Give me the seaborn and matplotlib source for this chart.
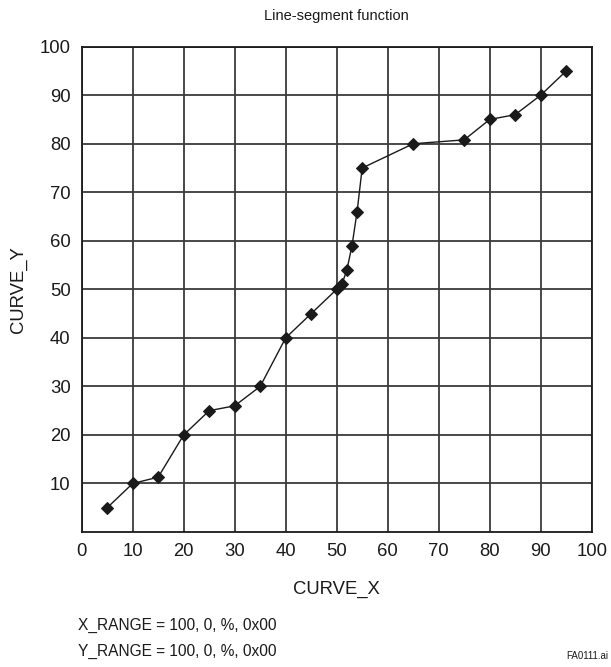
import matplotlib
matplotlib.use("Agg")
import matplotlib.pyplot as plt
import seaborn as sns
import pandas as pd

# points
curve_x = [5, 10, 15, 20, 25, 30, 35, 40, 45, 50, 51, 52, 53, 54, 55, 65, 75, 80, 85, 90, 95]
curve_y = [5, 10, 11.3, 20, 25, 26, 30, 40, 45, 50, 51, 54, 59, 66, 75, 80, 80.8, 85, 86, 90, 95]
x_ticks = list(range(0, 101, 10))
y_ticks = list(range(10, 101, 10))

df = pd.DataFrame({"CURVE_X": curve_x, "CURVE_Y": curve_y})

sns.set_theme(style="whitegrid")
plt.rcParams["font.family"] = ["Liberation Sans", "DejaVu Sans"]

fig = plt.figure(figsize=(6.11, 6.67), dpi=100)
ax = fig.add_axes([0.1337, 0.2024, 0.8347, 0.7276])

sns.lineplot(data=df, x="CURVE_X", y="CURVE_Y", ax=ax, color="#1a1a1a",
             marker="D", markersize=6.5, markeredgecolor="#1a1a1a",
             linewidth=1.0, estimator=None, sort=False)

ax.set_xlim(0, 100)
ax.set_ylim(0, 100)
ax.set_xticks(x_ticks)
ax.set_yticks(y_ticks)
ax.grid(True, color="#3a3a3a", linewidth=1.3)
for s in ax.spines.values():
    s.set_color("#1a1a1a")
    s.set_linewidth(1.3)
ax.tick_params(length=0, labelsize=13.3, colors="#1a1a1a", pad=8)

ax.set_xlabel("CURVE_X", fontsize=13.3, color="#1a1a1a", labelpad=15)
ax.set_ylabel("CURVE_Y", fontsize=13.3, color="#1a1a1a", labelpad=9)
ax.set_title("Line-segment function", fontsize=10.5, color="#1a1a1a", pad=19)

fig.text(0.128, 0.063, "X_RANGE = 100, 0, %, 0x00", fontsize=11.2, color="#1a1a1a", va="center")
fig.text(0.128, 0.024, "Y_RANGE = 100, 0, %, 0x00", fontsize=11.2, color="#1a1a1a", va="center")
fig.text(0.995, 0.0165, "FA0111.ai", fontsize=7, color="#1a1a1a", ha="right", va="center")

fig.savefig("out.png", dpi=100)
